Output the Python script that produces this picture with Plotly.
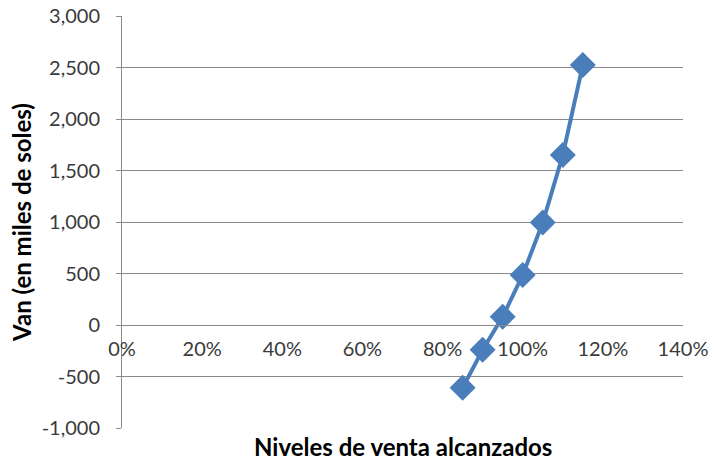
import plotly.graph_objects as go

# Sales level reached vs. NPV (thousands of soles)
niveles = [0.85, 0.90, 0.95, 1.00, 1.05, 1.10, 1.15]
van = [-610, -240, 80, 485, 995, 1650, 2525]

x_ticks = [0, 0.2, 0.4, 0.6, 0.8, 1.0, 1.2, 1.4]
y_ticks = [-1000, -500, 0, 500, 1000, 1500, 2000, 2500, 3000]
# plain hyphen for negatives, thousands separated by commas
y_labels = [f"{v:,}" for v in y_ticks]

FONT = "Lato"
GRID = "#8a8a8a"
BLUE = "#4a7ebb"
TICK_COLOR = "#3a3a3a"

fig = go.Figure()
fig.add_trace(go.Scatter(
    x=niveles, y=van, mode="lines+markers",
    line=dict(color=BLUE, width=4),
    marker=dict(symbol="diamond", size=20, color=BLUE),
    showlegend=False,
))

fig.update_layout(
    width=717, height=461,
    margin=dict(l=122, r=34, t=16, b=33),
    paper_bgcolor="white", plot_bgcolor="white",
    font=dict(family=FONT, size=20, color=TICK_COLOR),
    xaxis=dict(
        range=[0, 1.4], tickvals=x_ticks, tickformat=".0%",
        showgrid=False, zeroline=False, automargin=False,
        showline=True, linecolor=GRID, linewidth=1,
        ticks="", anchor="free", position=0.25,
        ticklabelstandoff=6,
        tickfont=dict(family=FONT, size=20, color=TICK_COLOR),
    ),
    yaxis=dict(
        range=[-1000, 3000], tickvals=y_ticks, ticktext=y_labels,
        showgrid=True, gridcolor=GRID, gridwidth=1, automargin=False,
        zeroline=False, showline=True, linecolor=GRID, linewidth=1,
        ticks="outside", ticklen=5, tickcolor=GRID,
        ticklabelstandoff=12,
        tickfont=dict(family=FONT, size=20, color=TICK_COLOR),
        title=dict(text="<b>Van (en miles de soles)</b>", standoff=3,
                   font=dict(family=FONT, size=24, color="#000000")),
    ),
)

fig.add_annotation(
    text="<b>Niveles de venta alcanzados</b>",
    xref="paper", yref="paper", x=0.5, y=0, yshift=-18,
    yanchor="middle", showarrow=False,
    font=dict(family=FONT, size=24, color="#000000"),
)

fig.write_html("out.html")
